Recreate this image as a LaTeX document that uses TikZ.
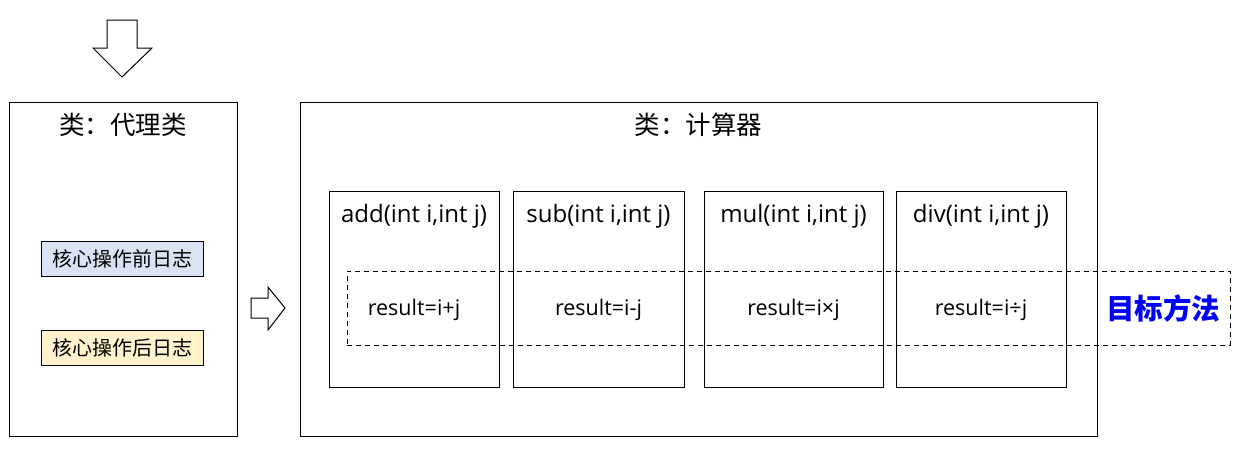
\documentclass[tikz,border=0pt]{standalone}
\usepackage{fontspec}
\setmainfont{Noto Sans CJK SC}
\newfontfamily\latfont{Open Sans}
\begin{document}
\begin{tikzpicture}[x=1pt,y=-1pt,
  frame/.style={draw=black,line width=1pt,inner sep=0pt,fill=white},
  logbox/.style={draw=black,line width=1pt,inner sep=0pt,minimum width=162pt,minimum height=35pt,font=\fontsize{20}{22}\selectfont},
  method/.style={draw=black,line width=1pt,inner sep=0pt,minimum height=196pt},
  mtitle/.style={inner sep=0pt,anchor=base,font=\latfont\fontsize{24}{26}\selectfont},
  mbody/.style={inner sep=0pt,anchor=base,font=\latfont\fontsize{21.5}{24}\selectfont},
  fatarrow/.style={draw=black,line width=1pt,fill=white,line join=miter}]
\useasboundingbox (0,0) rectangle (1252,448);
% down arrow
\draw[fatarrow] (107,20) -- (137,20) -- (137,48) -- (152,48) -- (122,77) -- (93,48) -- (107,48) -- cycle;
% proxy class
\node[frame,minimum width=228pt,minimum height=334pt] (proxy) at (123,269) {};
\node[inner sep=0pt,font=\fontsize{25.5}{27}\selectfont] (ptitle) at (123,125) {类：代理类};
\node[logbox,fill={rgb,255:red,218;green,227;blue,243}] (before) at (122,258.5) {核心操作前日志};
\node[logbox,fill={rgb,255:red,255;green,242;blue,204}] (after) at (122,347.5) {核心操作后日志};
% right arrow
\draw[fatarrow] (251,298) -- (268,298) -- (268,287) -- (285,308) -- (268,330) -- (268,318) -- (251,318) -- cycle;
% calculator class
\node[frame,minimum width=797pt,minimum height=334pt] (calc) at (698.5,269) {};
\node[inner sep=0pt,font=\fontsize{25.5}{27}\selectfont] (ctitle) at (698.5,125) {类：计算器};
\node[method,minimum width=170pt] (add) at (414,289) {};
\node[method,minimum width=171pt] (sub) at (598.5,289) {};
\node[method,minimum width=179pt] (mul) at (793.5,289) {};
\node[method,minimum width=170pt] (div) at (981,289) {};
\node[mtitle] (addt) at (414,222.5) {add(int i,int j)};
\node[mtitle] (subt) at (598.5,222.5) {sub(int i,int j)};
\node[mtitle] (mult) at (793.5,222.5) {mul(int i,int j)};
\node[mtitle] (divt) at (981,222.5) {div(int i,int j)};
\node[mbody] (addr) at (414,315.5) {result=i+j};
\node[mbody] (subr) at (598.5,315.5) {result=i-j};
\node[mbody] (mulr) at (793.5,315.5) {result=i×j};
\node[mbody] (divr) at (981,315.5) {result=i÷j};
% target region
\node[draw=black,line width=1pt,dash pattern=on 5pt off 4pt,inner sep=0pt,minimum width=883pt,minimum height=74pt] (target) at (788.5,308) {};
\node[inner sep=0pt,text={rgb,255:red,0;green,0;blue,255},font=\fontsize{28.5}{30}\selectfont\bfseries] (tlabel) at (1163,308) {目标方法};
\end{tikzpicture}
\end{document}
